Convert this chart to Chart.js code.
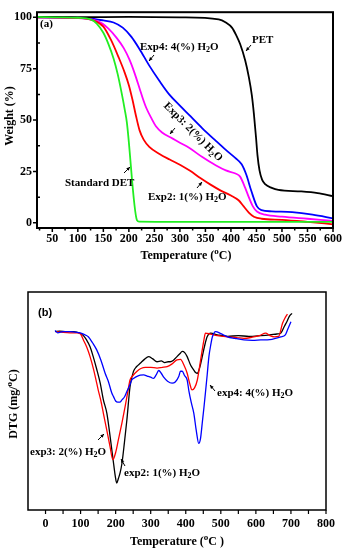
<!DOCTYPE html>
<html>
<head>
<meta charset="utf-8">
<script src="https://cdn.jsdelivr.net/npm/chart.js@4/dist/chart.umd.min.js"></script>
<style>
  html, body { margin: 0; padding: 0; background: #fff; }
  #wrapA { position: absolute; left: 0; top: 0; }
  #wrapB { position: absolute; left: 0; top: 275px; }
</style>
</head>
<body>
<div id="wrapA"><canvas id="tga" width="346" height="270"></canvas></div>
<div id="wrapB"><canvas id="dtg" width="346" height="275"></canvas></div>
<script>
// ---- panel (a): TGA, weight (%) vs temperature ----
const tempTicksA = [50, 100, 150, 200, 250, 300, 350, 400, 450, 500, 550, 600];
const weightTicks = [0, 25, 50, 75, 100];

const detTemp = [20, 60, 100, 125, 137, 150, 160, 170, 178, 186, 192, 196, 216, 220, 300, 400, 500, 600];
const detWeight = [100.2, 100, 99.8, 99, 97, 92.5, 87, 80, 72.5, 63, 55, 49, 1.2, 0.6, 0.5, 0.5, 0.5, 0.5];

const petTemp = [20, 100, 200, 300, 376, 390, 402, 410, 418, 428, 435, 441, 445, 449, 452, 456, 461, 467, 480, 493, 538, 570, 600];
const petWeight = [100.2, 100.1, 100.2, 100, 99, 97.5, 95, 91.5, 87, 79, 71, 62, 53, 42, 33, 25.5, 21, 18.8, 17, 16, 15.3, 14.5, 13];

const exp2Temp = [20, 100, 130, 150, 165, 180, 192, 200, 207, 214, 221, 229, 240, 260, 280, 300, 320, 340, 360, 380, 400, 415, 425, 435, 445, 460, 500, 550, 600];
const exp2Weight = [100, 99.7, 98.5, 95.5, 89, 80.5, 73, 67, 60, 52, 45, 40.5, 37, 33.5, 30.8, 28.3, 25.3, 21.8, 18.6, 15.7, 13.3, 11, 8, 5, 3, 2, 1.5, 0.5, -0.7];

const exp3Temp = [20, 100, 140, 160, 176, 190, 201, 211, 221, 228, 234, 245, 253, 265, 286, 300, 318, 344, 370, 390, 409, 418, 428, 435, 443, 451, 467, 500, 550, 600];
const exp3Weight = [100, 99.7, 98, 94.5, 90, 85, 79.5, 73, 65.4, 60, 56, 50.5, 47, 44, 41, 39, 36.5, 32, 28, 25.5, 24, 22.5, 17, 12.5, 8, 5.5, 4, 3, 2, 1];

const exp4Temp = [20, 120, 150, 170, 188, 205, 221, 240, 260, 279, 300, 318, 344, 370, 390, 409, 421, 430, 440, 451, 460, 480, 520, 560, 600];
const exp4Weight = [100, 99.5, 98.5, 97.5, 95, 90.5, 84.5, 76.5, 69, 62.5, 57, 52.5, 46, 40, 35.5, 31.5, 28.5, 23.5, 15.5, 8, 6.2, 5.6, 5.2, 4, 2.2];

// ---- panel (b): DTG vs temperature ----
const tempTicksB = [0, 100, 200, 300, 400, 500, 600, 700, 800];

const dtg1Temp = [27, 40, 60, 80, 98, 108, 117, 127, 136, 146, 156, 165, 175, 185, 194, 199, 203, 208, 213, 218, 225, 232, 241, 251, 260, 270, 282, 294, 305, 318, 330, 340, 350, 356, 365, 375, 383, 390, 397, 404, 414, 423, 428, 433, 440, 447, 454, 461, 471, 490, 520, 550, 580, 614, 640, 660, 671, 681, 690, 695, 703];
const dtg1Value = [0, 0.01, 0, 0, -0.04, -0.1, -0.21, -0.38, -0.63, -0.95, -1.3, -1.72, -2.06, -2.7, -3.32, -3.65, -3.82, -3.7, -3.55, -3.32, -2.8, -2.23, -1.39, -1.0, -0.88, -0.8, -0.7, -0.63, -0.68, -0.76, -0.74, -0.78, -0.76, -0.76, -0.72, -0.63, -0.56, -0.5, -0.53, -0.63, -0.85, -0.97, -1.03, -1.05, -0.9, -0.63, -0.35, -0.13, -0.04, -0.08, -0.12, -0.1, -0.12, -0.1, -0.08, -0.06, -0.04, 0.13, 0.28, 0.38, 0.46];

const dtg2Temp = [31, 50, 70, 90, 100, 108, 118, 127, 137, 146, 151, 158, 165, 175, 184, 192, 200, 208, 218, 227, 235, 241, 250, 261, 272, 285, 300, 318, 333, 347, 360, 375, 385, 395, 404, 411, 418, 425, 433, 440, 447, 452, 456, 470, 490, 518, 545, 566, 590, 610, 628, 640, 652, 665, 676, 684, 690];
const dtg2Value = [0, -0.02, -0.03, -0.03, -0.06, -0.21, -0.4, -0.63, -0.95, -1.3, -1.5, -1.75, -2.06, -2.5, -2.9, -3.23, -3.05, -2.72, -2.3, -1.89, -1.5, -1.22, -1.1, -1.0, -0.93, -0.9, -0.9, -0.92, -0.9, -0.88, -0.82, -0.71, -0.7, -0.85, -1.05, -1.3, -1.47, -1.42, -1.22, -0.85, -0.46, -0.2, -0.04, -0.06, -0.1, -0.13, -0.15, -0.17, -0.14, -0.1, -0.04, -0.1, -0.13, -0.12, 0.21, 0.36, 0.44];

const dtg4Temp = [27, 35, 50, 70, 90, 105, 115, 122, 134, 146, 158, 170, 179, 189, 194, 200, 206, 212, 218, 225, 232, 239, 246, 253, 261, 270, 280, 290, 300, 308, 315, 323, 330, 337, 348, 361, 370, 380, 385, 390, 396, 404, 409, 416, 423, 430, 437, 442, 447, 452, 456, 461, 466, 471, 476, 485, 500, 519, 540, 566, 590, 614, 640, 671, 684, 690, 700];
const dtg4Value = [0.03, -0.03, 0, 0, -0.02, -0.05, -0.09, -0.13, -0.28, -0.46, -0.72, -1.05, -1.25, -1.55, -1.64, -1.75, -1.78, -1.78, -1.72, -1.65, -1.51, -1.38, -1.22, -1.17, -1.13, -1.1, -1.09, -1.12, -1.15, -1.18, -1.1, -0.98, -1.05, -1.15, -1.25, -1.3, -1.27, -1.13, -1.0, -1.0, -1.1, -1.22, -1.5, -1.8, -2.06, -2.5, -2.82, -2.7, -2.31, -1.9, -1.55, -1.1, -0.63, -0.35, -0.13, 0, -0.05, -0.13, -0.17, -0.21, -0.22, -0.21, -0.2, -0.13, -0.08, 0.04, 0.25];

const SERIF = '"Liberation Serif", "Times New Roman", serif';
const SANS = '"Liberation Sans", Arial, sans-serif';

function pts(xs, ys) {
  return xs.map((x, i) => ({ x: x, y: ys[i] }));
}

function line(data, color, width) {
  return {
    data: data,
    borderColor: color,
    borderWidth: width,
    pointRadius: 0,
    fill: false,
    cubicInterpolationMode: 'monotone'
  };
}

// draws text made of parts like ["H"], ["2", "sub"], ["o", "sup"]
function richText(ctx, parts, x, y, size, family, align) {
  const small = Math.round(size * 0.72);
  let total = 0;
  const widths = parts.map(p => {
    ctx.font = 'bold ' + (p[1] ? small : size) + 'px ' + family;
    const w = ctx.measureText(p[0]).width;
    total += w;
    return w;
  });
  let cx = x;
  if (align === 'center') cx = x - total / 2;
  if (align === 'right') cx = x - total;
  ctx.textAlign = 'left';
  ctx.textBaseline = 'middle';
  ctx.fillStyle = '#000';
  parts.forEach((p, i) => {
    ctx.font = 'bold ' + (p[1] ? small : size) + 'px ' + family;
    let dy = 0;
    if (p[1] === 'sub') dy = size * 0.3;
    if (p[1] === 'sup') dy = -size * 0.4;
    ctx.fillText(p[0], cx, y + dy);
    cx += widths[i];
  });
}

function arrow(ctx, x1, y1, x2, y2) {
  const a = Math.atan2(y2 - y1, x2 - x1);
  ctx.strokeStyle = '#000';
  ctx.fillStyle = '#000';
  ctx.lineWidth = 1;
  ctx.beginPath();
  ctx.moveTo(x1, y1);
  ctx.lineTo(x2, y2);
  ctx.stroke();
  ctx.beginPath();
  ctx.moveTo(x2, y2);
  ctx.lineTo(x2 - 4 * Math.cos(a - 0.45), y2 - 4 * Math.sin(a - 0.45));
  ctx.lineTo(x2 - 4 * Math.cos(a + 0.45), y2 - 4 * Math.sin(a + 0.45));
  ctx.closePath();
  ctx.fill();
}

function tickMarks(ctx, scale, values, len, horizontal, edge) {
  ctx.beginPath();
  values.forEach(v => {
    const p = scale.getPixelForValue(v);
    if (horizontal) { ctx.moveTo(p, edge); ctx.lineTo(p, edge + len); }
    else { ctx.moveTo(edge, p); ctx.lineTo(edge - len, p); }
  });
  ctx.stroke();
}

function mids(values) {
  const out = [];
  for (let i = 0; i < values.length - 1; i++) out.push((values[i] + values[i + 1]) / 2);
  return out;
}

const H2O = [['H'], ['2', 'sub'], ['O']];

const decorA = {
  id: 'decorA',
  afterDraw(chart) {
    const ctx = chart.ctx;
    const a = chart.chartArea;
    const xs = chart.scales.x, ys = chart.scales.y;
    ctx.save();
    ctx.strokeStyle = '#000';
    ctx.lineWidth = 2;
    ctx.strokeRect(a.left, a.top, a.right - a.left, a.bottom - a.top);
    ctx.lineWidth = 1.5;
    tickMarks(ctx, xs, tempTicksA, 4, true, a.bottom);
    tickMarks(ctx, xs, [25].concat(mids(tempTicksA)), 2.5, true, a.bottom);
    tickMarks(ctx, ys, weightTicks, 4, false, a.left);
    tickMarks(ctx, ys, mids(weightTicks), -3, false, a.left);

    // axis titles
    richText(ctx, [['Temperature ('], ['o', 'sup'], ['C)']], 186, 256, 12, SERIF, 'center');
    ctx.save();
    ctx.translate(10, 116);
    ctx.rotate(-Math.PI / 2);
    richText(ctx, [['Weight (%)']], 0, 0, 12, SERIF, 'center');
    ctx.restore();

    // labels
    richText(ctx, [['(a)']], 40, 24, 11, SERIF, 'left');
    richText(ctx, [['Exp4: 4(%) ']].concat(H2O), 140, 47, 11, SERIF, 'left');
    arrow(ctx, 154, 55, 149, 61);
    richText(ctx, [['PET']], 252, 40, 11, SERIF, 'left');
    arrow(ctx, 251, 45, 246, 51);
    ctx.save();
    ctx.translate(193, 132);
    ctx.rotate(Math.PI / 4);
    richText(ctx, [['Exp3: 2(%) ']].concat(H2O), 0, 0, 11, SERIF, 'center');
    ctx.restore();
    arrow(ctx, 175, 128, 170, 134);
    richText(ctx, [['Standard DET']], 65, 183, 11, SERIF, 'left');
    arrow(ctx, 124, 173, 130, 167);
    richText(ctx, [['Exp2: 1(%) ']].concat(H2O), 148, 197, 11, SERIF, 'left');
    arrow(ctx, 197, 188, 202, 182);
    ctx.restore();
  }
};

const decorB = {
  id: 'decorB',
  afterDraw(chart) {
    const ctx = chart.ctx;
    const a = chart.chartArea;
    const xs = chart.scales.x;
    ctx.save();
    ctx.strokeStyle = '#000';
    ctx.lineWidth = 1.5;
    ctx.strokeRect(a.left, a.top, a.right - a.left, a.bottom - a.top);
    ctx.lineWidth = 1.2;
    tickMarks(ctx, xs, tempTicksB, 4, true, a.bottom);
    tickMarks(ctx, xs, mids(tempTicksB), 4, true, a.bottom);

    richText(ctx, [['Temperature ('], ['o', 'sup'], ['C )']], 177, 267, 12, SERIF, 'center');
    ctx.save();
    ctx.translate(14, 129);
    ctx.rotate(-Math.PI / 2);
    richText(ctx, [['DTG (mg/'], ['o', 'sup'], ['C)']], 0, 0, 12, SERIF, 'center');
    ctx.restore();

    richText(ctx, [['(b)']], 38, 38, 11, SANS, 'left');
    richText(ctx, [['exp4: 4(%) ']].concat(H2O), 217, 118, 11, SERIF, 'left');
    arrow(ctx, 215, 116, 210, 110);
    richText(ctx, [['exp3: 2(%) ']].concat(H2O), 30, 177, 11, SERIF, 'left');
    arrow(ctx, 98, 165, 104, 159);
    richText(ctx, [['exp2: 1(%) ']].concat(H2O), 124, 198, 11, SERIF, 'left');
    arrow(ctx, 125, 191, 121, 184);
    ctx.restore();
  }
};

new Chart(document.getElementById('tga'), {
  type: 'line',
  data: {
    datasets: [
      line(pts(detTemp, detWeight), '#22ee22', 1.8),
      line(pts(petTemp, petWeight), '#000000', 1.8),
      line(pts(exp2Temp, exp2Weight), '#ff0000', 1.8),
      line(pts(exp3Temp, exp3Weight), '#ff00ff', 1.8),
      line(pts(exp4Temp, exp4Weight), '#0000ff', 1.8)
    ]
  },
  options: {
    responsive: false,
    animation: false,
    layout: { padding: { top: 4, right: 11, left: 0, bottom: 0 } },
    plugins: { legend: { display: false }, tooltip: { enabled: false } },
    scales: {
      x: {
        type: 'linear', min: 20, max: 600,
        afterBuildTicks: s => { s.ticks = tempTicksA.map(v => ({ value: v })); },
        afterFit: s => { s.height = 42; },
        grid: { display: false, drawTicks: false },
        border: { display: false },
        ticks: { color: '#000', padding: 4, maxRotation: 0, font: { family: SERIF, size: 12, weight: 'bold' } }
      },
      y: {
        type: 'linear', min: -2.5, max: 102.5,
        afterBuildTicks: s => { s.ticks = weightTicks.map(v => ({ value: v })); },
        afterFit: s => { s.width = 37; },
        grid: { display: false, drawTicks: false },
        border: { display: false },
        ticks: { color: '#000', padding: 5, font: { family: SERIF, size: 12, weight: 'bold' } }
      }
    }
  },
  plugins: [decorA]
});

new Chart(document.getElementById('dtg'), {
  type: 'line',
  data: {
    datasets: [
      line(pts(dtg4Temp, dtg4Value), '#0000ff', 1.3),
      line(pts(dtg2Temp, dtg2Value), '#ff0000', 1.3),
      line(pts(dtg1Temp, dtg1Value), '#000000', 1.3)
    ]
  },
  options: {
    responsive: false,
    animation: false,
    layout: { padding: { top: 17, right: 20, left: 0, bottom: 0 } },
    plugins: { legend: { display: false }, tooltip: { enabled: false } },
    scales: {
      x: {
        type: 'linear', min: -50, max: 800,
        afterBuildTicks: s => { s.ticks = tempTicksB.map(v => ({ value: v })); },
        afterFit: s => { s.height = 40; },
        grid: { display: false, drawTicks: false },
        border: { display: false },
        ticks: { color: '#000', padding: 7, maxRotation: 0, font: { family: SERIF, size: 12, weight: 'bold' } }
      },
      y: {
        type: 'linear', min: -4.5, max: 1.0,
        afterFit: s => { s.width = 28; },
        grid: { display: false, drawTicks: false },
        border: { display: false },
        ticks: { display: false }
      }
    }
  },
  plugins: [decorB]
});
</script>
</body>
</html>
